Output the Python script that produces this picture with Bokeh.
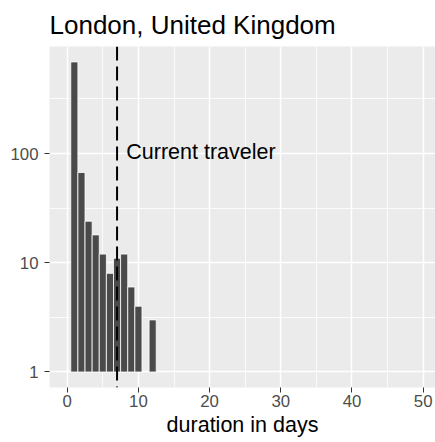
from bokeh.plotting import figure
from bokeh.models import Range1d, FixedTicker, Span, NumeralTickFormatter, ColumnDataSource
from bokeh.core.properties import value
from bokeh.embed import file_html
from bokeh.resources import INLINE

# ---- data ----
duration_days = [1, 2, 3, 4, 5, 6, 7, 8, 9, 10, 11, 12]
traveler_counts = [690, 67, 24, 18, 12, 8, 11, 12, 6, 4, 0, 3]
current_traveler_days = 7
annotation_label = "Current traveler"
title_text = "London, United Kingdom"
x_label = "duration in days"
x_ticks = [0, 10, 20, 30, 40, 50]
x_minor_ticks = [5, 15, 25, 35, 45]
y_ticks = [1, 10, 100]
y_minor_ticks = [10 ** 0.5, 10 ** 1.5, 10 ** 2.5]

# keep only non-empty bins (log scale)
pairs = [(d, c) for d, c in zip(duration_days, traveler_counts) if c > 0]
src = ColumnDataSource(dict(
    left=[d - 0.5 for d, _ in pairs],
    right=[d + 0.5 for d, _ in pairs],
    bottom=[1] * len(pairs),
    top=[c for _, c in pairs],
))

FONT = "Liberation Sans"

p = figure(
    width=435, height=442,
    y_axis_type="log",
    x_range=Range1d(-2.49, 51.73),
    y_range=Range1d(10 ** -0.142, 10 ** 2.98),
    output_backend="svg", toolbar_location=None,
    min_border_left=49, min_border_right=0, min_border_top=44, min_border_bottom=55,
    background_fill_color="#EBEBEB", border_fill_color="white",
    outline_line_color=None,
)

p.title.text = title_text
p.title.text_font = FONT
p.title.text_font_size = "26px"
p.title.text_font_style = "normal"
p.title.text_color = "black"
p.title.align = "left"
p.title.standoff = 14

# grid
for g in (p.xgrid, p.ygrid):
    g.grid_line_color = "white"
    g.grid_line_width = 1.5
    g.minor_grid_line_color = "white"
    g.minor_grid_line_width = 0.8

p.xaxis.ticker = FixedTicker(ticks=x_ticks, minor_ticks=x_minor_ticks)
p.yaxis.ticker = FixedTicker(ticks=y_ticks, minor_ticks=y_minor_ticks)
p.yaxis.formatter = NumeralTickFormatter(format="0")

for ax in (p.xaxis, p.yaxis):
    ax.axis_line_color = None
    ax.major_tick_line_color = "#333333"
    ax.major_tick_line_width = 1
    ax.major_tick_in = 0
    ax.major_tick_out = 5
    ax.minor_tick_line_color = None
    ax.major_label_text_font = FONT
    ax.major_label_text_font_size = "16.8px"
    ax.major_label_text_color = "#4D4D4D"
p.xaxis.major_label_standoff = 2
p.yaxis.major_label_standoff = 6

p.xaxis.axis_label = x_label
p.xaxis.axis_label_text_font = FONT
p.xaxis.axis_label_text_font_size = "21.5px"
p.xaxis.axis_label_text_font_style = "normal"
p.xaxis.axis_label_text_color = "black"
p.xaxis.axis_label_standoff = 3

# bars
p.quad(left="left", right="right", bottom="bottom", top="top", source=src,
       fill_color="#4A4A4A", line_color="white", line_width=0.8)

# current traveler line
p.add_layout(Span(location=current_traveler_days, dimension="height",
                  line_color="black", line_width=2, line_dash="14 6"))

p.text(x=[8.3], y=[104], text=[annotation_label],
       text_font=value(FONT), text_font_size="21.5px",
       text_baseline="middle", text_align="left", text_color="black")

open("out.html", "w").write(file_html(p, INLINE))
